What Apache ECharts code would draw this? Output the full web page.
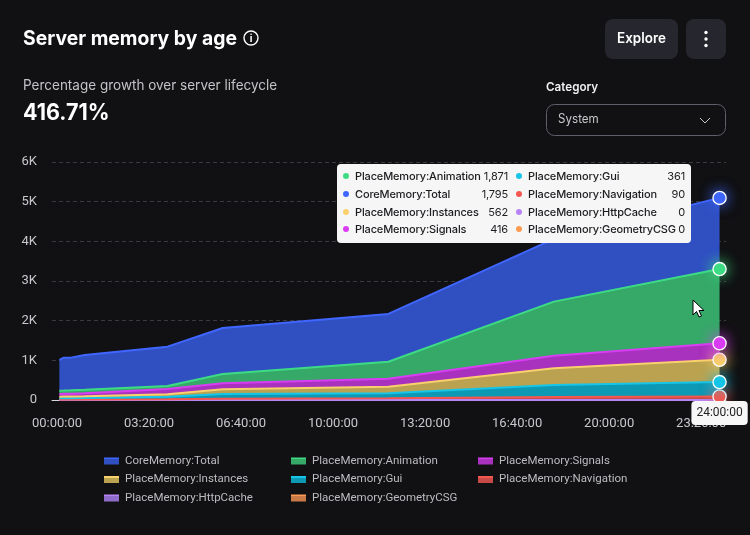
<!DOCTYPE html>
<html><head><meta charset="utf-8">
<style>html,body{margin:0;padding:0;background:#111113}#c{width:750px;height:535px}</style>
<script src="https://cdn.jsdelivr.net/npm/echarts@6/dist/echarts.min.js"></script>
</head><body><div id="c"></div>
<script>
const minutes = [5, 15, 30, 60, 240, 360, 720, 1080, 1440];
const tickMinutes = [0, 200, 400, 600, 800, 1000, 1200, 1400];
const navigation = [10, 10, 11, 12, 17, 30, 42, 75, 90];
const gui = [35, 36, 36, 38, 68, 120, 126, 303, 361];
const instances = [40, 42, 42, 44, 58, 120, 166, 422, 562];
const signals = [65, 68, 70, 74, 135, 150, 202, 318, 416];
const animation = [85, 82, 84, 88, 75, 236, 429, 1362, 1871];
const coreTotal = [775, 830, 825, 879, 992, 1160, 1205, 1582, 1795];
const httpCache = [0, 0, 0, 0, 0, 0, 0, 0, 0];
const geometryCSG = [0, 0, 0, 0, 0, 0, 0, 0, 0];

const FONT = "Inter, 'Noto Sans', sans-serif";
const SMALL = "Roboto, 'Noto Sans', sans-serif";
// stacked bottom to top
const defs = [
  {name:'PlaceMemory:GeometryCSG', data:geometryCSG, line:'#FF9A52', fill:'#C97A45', dot:false},
  {name:'PlaceMemory:HttpCache', data:httpCache, line:'#B784F5', fill:'#8F6BCB', dot:false},
  {name:'PlaceMemory:Navigation', data:navigation, line:'#F4574F', fill:'#C64A45', dot:true},
  {name:'PlaceMemory:Gui', data:gui, line:'#16C5E8', fill:'#0D98B4', dot:true},
  {name:'PlaceMemory:Instances', data:instances, line:'#F8D06C', fill:'#BBA250', dot:true},
  {name:'PlaceMemory:Signals', data:signals, line:'#D93CF2', fill:'#A831BE', dot:true},
  {name:'PlaceMemory:Animation', data:animation, line:'#3DDC84', fill:'#36A968', dot:true},
  {name:'CoreMemory:Total', data:coreTotal, line:'#3F66FF', fill:'#3050C2', dot:true}
];
const byName = Object.fromEntries(defs.map(d => [d.name, d]));
const last = minutes.length - 1;

const series = defs.map(d => ({
  name: d.name, type:'line', stack:'mem',
  encode:{x:1,y:0},
  showSymbol:true, symbol:'none', animation:false,
  lineStyle:{color:d.line, width:2},
  itemStyle:{color:d.line},
  areaStyle:{color:d.fill, opacity:1},
  emphasis:{disabled:true},
  z:2,
  data: d.data.map((v,i) => {
    if (i === last && d.dot) {
      return {value:[v, minutes[i]], symbol:'circle', symbolSize:12,
        itemStyle:{color:d.line, borderColor:'#fff', borderWidth:1.3, shadowColor:d.line, shadowBlur:14}};
    }
    return {value:[v, minutes[i]]};
  })
}));

const clock = m => {
  m = Math.round(m);
  const h = Math.floor(m/60), mm = m%60;
  return String(h).padStart(2,'0')+':'+String(mm).padStart(2,'0')+':00';
};
const legendIcon = name => ({
  name, icon:'rect',
  itemStyle:{color:{type:'linear',x:0,y:0,x2:0,y2:1,colorStops:[
    {offset:0,color:byName[name].line},{offset:.28,color:byName[name].line},
    {offset:.28,color:byName[name].fill},{offset:1,color:byName[name].fill}]}}
});
const legendCol = (left, names) => ({
  left, top:450, orient:'vertical', itemWidth:15, itemHeight:7, itemGap:6.5, itemStyle:{borderWidth:0},
  selectedMode:false, textStyle:{color:'#bcbcc0', fontFamily:SMALL, fontSize:11.5, padding:[0,0,0,1], height:12, lineHeight:12},
  data:names.map(legendIcon)
});
const txt = (text,x,y,font,fill,sx,extra) => ({type:'text',silent:true,x,y,scaleX:sx||1,
  style:Object.assign({text,x:0,y:0,font,fill,textVerticalAlign:'middle'},extra||{})});

const tipOrder = ['PlaceMemory:Animation','CoreMemory:Total','PlaceMemory:Instances','PlaceMemory:Signals',
                  'PlaceMemory:Gui','PlaceMemory:Navigation','PlaceMemory:HttpCache','PlaceMemory:GeometryCSG'];
const tipColumn = (names, w) => names.map(n => {
  const d = byName[n];
  return `<div style="display:flex;align-items:center;height:17.7px;width:${w}px">
  <span style="width:6px;height:6px;border-radius:50%;background:${d.line};margin-right:6px;flex:none"></span>
  <span style="flex:1;white-space:nowrap">${n}</span>
  <span style="white-space:nowrap;font-weight:400">${d.data[last].toLocaleString('en-US')}</span></div>`;
}).join('');

const chart = echarts.init(document.getElementById('c'), null, {renderer:'canvas'});
chart.setOption({
  backgroundColor:'#111113',
  animation:false,
  grid:{left:52, right:24, top:162, bottom:135, containLabel:false},
  xAxis:{
    type:'value', min:-11, max:1454,
    axisLine:{show:true, onZero:false, lineStyle:{color:'#d8d8dc', width:1}},
    axisTick:{show:false},
    splitLine:{show:false},
    axisLabel:{customValues:tickMinutes, color:'#c8c8cc', fontFamily:SMALL, fontSize:13, margin:17,
      formatter:v=>clock(v), hideOverlap:false},
    axisPointer:{show:true, type:'line', lineStyle:{opacity:0},
      label:{show:true, backgroundColor:'#f7f7f7', color:'#222', fontFamily:SMALL, fontSize:12, padding:[6,5,6,5], borderRadius:4, margin:1,
        shadowBlur:0, formatter:p=>clock(p.value)}}
  },
  yAxis:{
    type:'value', min:0, max:6000, interval:1000,
    axisLine:{show:false}, axisTick:{show:false},
    splitLine:{lineStyle:{color:'#3a3a40', type:[4,3], width:1}},
    axisLabel:{color:'#c8c8cc', fontFamily:SMALL, fontSize:13, margin:15, formatter:v=>v===0?'0':(v/1000)+'K'}
  },
  legend:[
    legendCol(99,['CoreMemory:Total','PlaceMemory:Instances','PlaceMemory:HttpCache']),
    legendCol(286,['PlaceMemory:Animation','PlaceMemory:Gui','PlaceMemory:GeometryCSG']),
    legendCol(473,['PlaceMemory:Signals','PlaceMemory:Navigation'])
  ],
  tooltip:{
    trigger:'axis', alwaysShowContent:true, triggerOn:'none', transitionDuration:0, showDelay:0,
    position:()=>[337,164], padding:0, borderWidth:0, backgroundColor:'#f6f6f6',
    extraCssText:'box-shadow:none;border-radius:4px;',
    formatter:()=>`<div style="display:flex;width:354px;height:79px;box-sizing:border-box;padding:3.5px 6px 0 6px;font:500 11px ${FONT};color:#1c1c20;letter-spacing:-0.15px">
      <div style="margin-right:8px">${tipColumn(tipOrder.slice(0,4),165)}</div><div>${tipColumn(tipOrder.slice(4),169)}</div></div>`
  },
  graphic:[
    txt('Server memory by age',23,39,'700 20px '+FONT,'#ffffff',.968),
    {type:'circle',silent:true,shape:{cx:251,cy:38,r:7},style:{fill:'none',stroke:'#fff',lineWidth:1.4}},
    txt('i',251,38.5,'700 10px '+FONT,'#fff',1,{textAlign:'center'}),
    {type:'rect',silent:true,shape:{x:605,y:19,width:73,height:40,r:8},style:{fill:'#26262e'}},
    txt('Explore',641.5,39,'600 14px '+FONT,'#fff',.96,{textAlign:'center'}),
    {type:'rect',silent:true,shape:{x:686,y:19,width:40,height:40,r:8},style:{fill:'#26262e'}},
    {type:'circle',silent:true,shape:{cx:706,cy:32.5,r:1.7},style:{fill:'#fff'}},
    {type:'circle',silent:true,shape:{cx:706,cy:39,r:1.7},style:{fill:'#fff'}},
    {type:'circle',silent:true,shape:{cx:706,cy:45.5,r:1.7},style:{fill:'#fff'}},
    txt('Percentage growth over server lifecycle',23,86,'400 14px '+FONT,'#c4c4c8',.965),
    txt('416.71%',23,113,'700 23px '+FONT,'#ffffff',.935),
    txt('Category',546,87,'600 12px '+FONT,'#f0f0f0',.97),
    {type:'rect',silent:true,shape:{x:546.5,y:104.5,width:179,height:31,r:8},style:{fill:'none',stroke:'#60606a',lineWidth:1}},
    txt('System',558,119,'400 12.5px '+FONT,'#c8c8cc',.93),
    {type:'polyline',silent:true,shape:{points:[[700,118],[705,123],[710,118]]},style:{fill:'none',stroke:'#c8c8cc',lineWidth:1}},
    {type:'polygon',silent:true,z:100,shape:{points:[[693,300],[693,315],[696.5,311.5],[699,317],[701.5,316],[699,310.5],[704,310.5]]},style:{fill:'#fff',stroke:'#000',lineWidth:1}}
  ],
  series
});
chart.dispatchAction({type:'showTip', seriesIndex:7, dataIndex:last});
</script></body></html>
